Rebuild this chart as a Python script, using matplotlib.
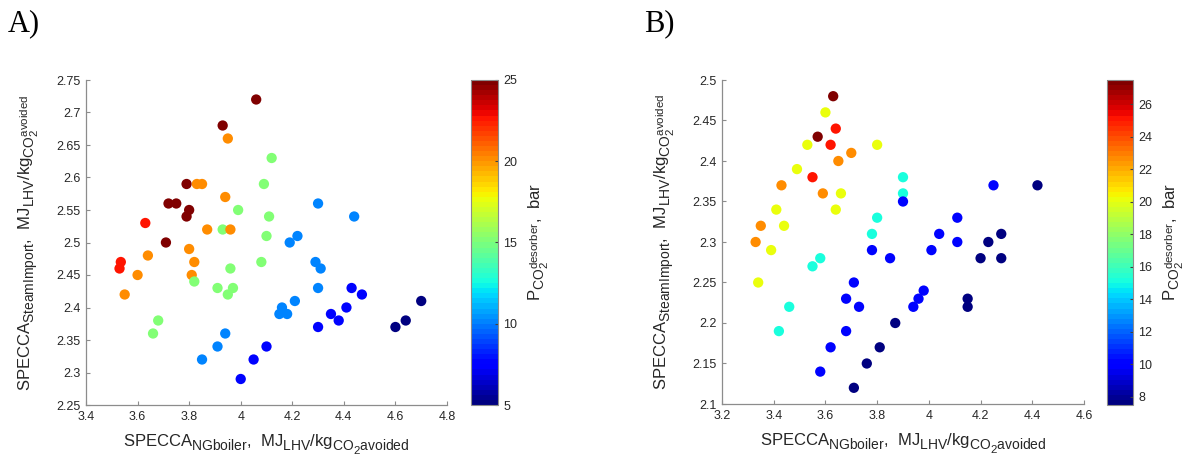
import numpy as np
import matplotlib
matplotlib.use("Agg")
import matplotlib.pyplot as plt
from matplotlib import _mathtext

plt.rcParams['font.family'] = ['Liberation Sans', 'DejaVu Sans']
plt.rcParams['mathtext.fontset'] = 'custom'
plt.rcParams['mathtext.rm'] = 'Liberation Sans'
plt.rcParams['mathtext.it'] = 'Liberation Sans'
plt.rcParams['mathtext.bf'] = 'Liberation Sans:bold'
plt.rcParams['mathtext.default'] = 'rm'
# larger, lower sub/superscripts (closer to the TeX interpreter look)
_mathtext.SHRINK_FACTOR = 0.83
_mathtext.FontConstantsBase.sub1 = 0.5
_mathtext.FontConstantsBase.sub2 = 0.6

# case A: NG boiler vs steam import, colour = desorber pressure
xa = [4.06, 3.93, 3.95, 4.12, 3.79, 3.83, 3.85, 4.09, 3.94, 3.72, 3.75, 4.30,
      3.99, 3.80, 3.79, 4.11, 4.44, 3.63, 3.87, 3.93, 3.96, 4.10, 4.22, 4.19,
      3.71, 3.80, 3.64, 3.535, 3.82, 4.29, 3.53, 3.96, 4.31, 3.60, 3.81, 3.82,
      4.08, 3.91, 3.97, 3.95, 4.30, 4.43, 4.47, 3.55, 4.21, 4.70, 4.16, 4.15,
      4.18, 4.41, 4.35, 4.38, 4.64, 4.60, 4.30, 3.68, 3.66, 3.94, 3.91, 4.10,
      3.85, 4.05, 4.00]
ya = [2.72, 2.68, 2.66, 2.63, 2.59, 2.59, 2.59, 2.59, 2.57, 2.56, 2.56, 2.56,
      2.55, 2.55, 2.54, 2.54, 2.54, 2.53, 2.52, 2.52, 2.52, 2.51, 2.51, 2.50,
      2.50, 2.49, 2.48, 2.47, 2.47, 2.47, 2.46, 2.46, 2.46, 2.45, 2.45, 2.44,
      2.47, 2.43, 2.43, 2.42, 2.43, 2.43, 2.42, 2.42, 2.41, 2.41, 2.40, 2.39,
      2.39, 2.40, 2.39, 2.38, 2.38, 2.37, 2.37, 2.38, 2.36, 2.36, 2.34, 2.34,
      2.32, 2.32, 2.29]
pa = [25, 25, 20, 15, 25, 20, 20, 15, 20, 25, 25, 10,
      15, 25, 25, 15, 10, 22.5, 20, 15, 20, 15, 10, 10,
      25, 20, 20, 22.5, 20, 10, 22.5, 15, 10, 20, 20, 15,
      15, 15, 15, 15, 10, 7.5, 7.5, 20, 10, 5, 10, 10,
      10, 7.5, 7.5, 7.5, 5, 5, 7.5, 15, 15, 10, 10, 7.5,
      10, 7.5, 7.5]

# case B
xb = [3.63, 3.60, 3.64, 3.57, 3.53, 3.62, 3.80, 3.70, 3.65, 3.49, 3.55, 3.90,
      3.43, 4.25, 4.42, 3.59, 3.66, 3.90, 3.90, 3.41, 3.64, 3.80, 4.11, 3.35,
      3.44, 3.78, 4.04, 4.28, 3.33, 4.11, 4.23, 3.39, 3.78, 4.01, 3.58, 3.85,
      4.20, 4.28, 3.55, 3.34, 3.71, 3.98, 3.68, 3.96, 4.15, 3.46, 3.73, 3.94,
      4.15, 3.87, 3.42, 3.68, 3.62, 3.81, 3.76, 3.58, 3.71]
yb = [2.48, 2.46, 2.44, 2.43, 2.42, 2.42, 2.42, 2.41, 2.40, 2.39, 2.38, 2.38,
      2.37, 2.37, 2.37, 2.36, 2.36, 2.36, 2.35, 2.34, 2.34, 2.33, 2.33, 2.32,
      2.32, 2.31, 2.31, 2.31, 2.30, 2.30, 2.30, 2.29, 2.29, 2.29, 2.28, 2.28,
      2.28, 2.28, 2.27, 2.25, 2.25, 2.24, 2.23, 2.23, 2.23, 2.22, 2.22, 2.22,
      2.22, 2.20, 2.19, 2.19, 2.17, 2.17, 2.15, 2.14, 2.12]
pb = [27.5, 20, 25, 27.5, 20, 25, 20, 22.5, 22.5, 20, 25, 15,
      22.5, 10, 7.5, 22.5, 20, 15, 10, 20, 20, 15, 10, 22.5,
      20, 15, 10, 7.5, 22.5, 10, 7.5, 20, 10, 10, 15, 10,
      7.5, 7.5, 15, 20, 10, 10, 10, 10, 7.5, 15, 10, 10,
      7.5, 7.5, 15, 10, 10, 7.5, 7.5, 10, 7.5]

xlab = r'SPECCA$_{NGboiler}$,  MJ$_{LHV}$/kg$_{CO_2avoided}$'
ylab = r'SPECCA$_{SteamImport}$,  MJ$_{LHV}$/kg$_{CO_2^{avoided}}$'
clab = r'P$_{CO_2^{desorber}}$,  bar'

cmap = plt.get_cmap('jet', 64)
axcol = '#8c8c8c'
txtcol = '#262626'

fig = plt.figure(figsize=(11.97, 4.65), dpi=100)
W, H = 1197, 465


def frac(l, t, r, b):
    return [l / W, 1 - b / H, (r - l) / W, (b - t) / H]


def panel(ax_box, cb_box, x, y, p, xlim, ylim, xt, yt, clim, ct, tag, tagx):
    ax = fig.add_axes(frac(*ax_box))
    sc = ax.scatter(x, y, c=p, cmap=cmap, vmin=clim[0], vmax=clim[1],
                    s=55, edgecolors='none', zorder=3)
    ax.set_xlim(xlim)
    ax.set_ylim(ylim)
    ax.set_xticks(xt)
    ax.set_yticks(yt)
    ax.set_xticklabels([f'{v:g}' for v in xt])
    ax.set_yticklabels([f'{v:g}' for v in yt])
    for s in ['top', 'right']:
        ax.spines[s].set_visible(False)
    for s in ['left', 'bottom']:
        ax.spines[s].set_color(axcol)
        ax.spines[s].set_linewidth(0.9)
    ax.tick_params(direction='in', length=3, width=0.8, color=axcol,
                   labelsize=9, labelcolor=txtcol, pad=4)
    ax.set_xlabel(xlab, fontsize=12, color=txtcol)
    ax.set_ylabel(ylab, fontsize=12, color=txtcol)
    ax.xaxis.set_label_coords(0.5, -0.085)
    ax.yaxis.set_label_coords(-0.125, 0.5)

    cax = fig.add_axes(frac(*cb_box))
    cb = fig.colorbar(sc, cax=cax, ticks=ct)
    cb.outline.set_edgecolor(axcol)
    cb.outline.set_linewidth(0.8)
    cax.tick_params(direction='in', length=2, width=0.8, color='#404040',
                    labelsize=9, labelcolor=txtcol, pad=4)
    cb.set_label(clab, fontsize=12, color=txtcol, labelpad=6)

    fig.text(tagx / W, 1 - 24 / H, tag, fontsize=22, family='Liberation Serif',
             va='center', ha='left', color='black')


panel((86, 80, 447, 405), (471, 80, 498, 405), xa, ya, pa,
      (3.4, 4.8), (2.25, 2.75),
      [3.4, 3.6, 3.8, 4.0, 4.2, 4.4, 4.6, 4.8],
      [2.25, 2.3, 2.35, 2.4, 2.45, 2.5, 2.55, 2.6, 2.65, 2.7, 2.75],
      (5, 25), [5, 10, 15, 20, 25], 'A)', 8)

panel((722, 80, 1084, 404), (1107, 80, 1133, 405), xb, yb, pb,
      (3.2, 4.6), (2.1, 2.5),
      [3.2, 3.4, 3.6, 3.8, 4.0, 4.2, 4.4, 4.6],
      [2.1, 2.15, 2.2, 2.25, 2.3, 2.35, 2.4, 2.45, 2.5],
      (7.5, 27.5), [8, 10, 12, 14, 16, 18, 20, 22, 24, 26], 'B)', 644)

fig.savefig('out.png', dpi=100)
